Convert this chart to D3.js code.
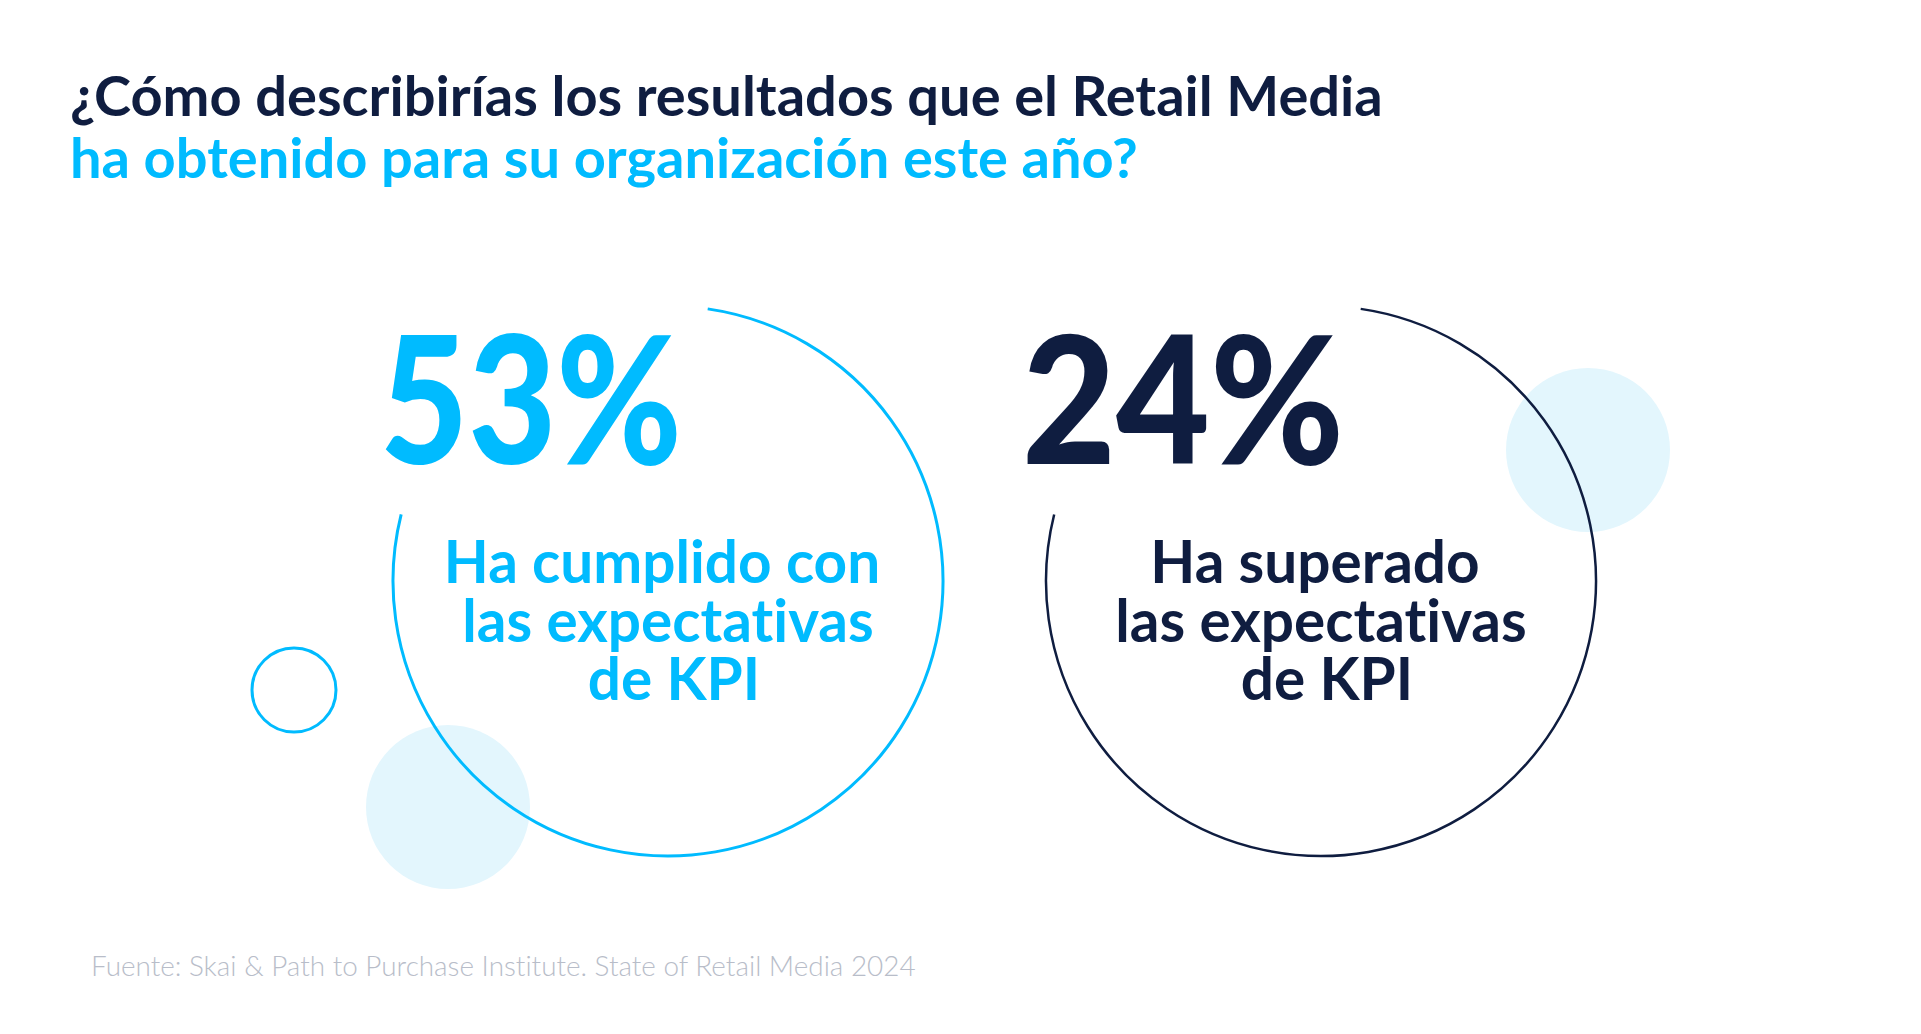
<!DOCTYPE html>
<html><head><meta charset="utf-8">
<script src="https://cdn.jsdelivr.net/npm/d3@7"></script>
<style>
html,body{margin:0;padding:0;background:#fff;}
svg{display:block;font-family:Lato,"Noto Sans",sans-serif;font-variant-ligatures:none;}
</style></head>
<body>
<script>
const titleLines = ["¿Cómo describirías los resultados que el Retail Media", "ha obtenido para su organización este año?"];
const categories = ["cumplido", "superado"];
const values = [53, 24];
const descriptions = [
  ["Ha cumplido con", "las expectativas", "de KPI"],
  ["Ha superado", "las expectativas", "de KPI"]
];
const colors = ["#00bbff", "#0f1d40"];
const source = "Fuente: Skai & Path to Purchase Institute. State of Retail Media 2024";

const W = 1921, H = 1034;
const CYAN = "#00bbff", NAVY = "#0f1d40", PALE = "#e3f6fd";
// layout of the big numbers (start offset from circle centre, rendered width)
const numLayout = [{dx: -288, w: 302}, {dx: -299, w: 322}];

const svg = d3.select("body").append("svg").attr("width", W).attr("height", H);

// title
const title = svg.append("text").attr("x", 70).attr("font-weight", 700).attr("font-size", 56);
title.append("tspan").attr("x", 70).attr("y", 116).attr("fill", NAVY).text(titleLines[0]);
title.append("tspan").attr("x", 70).attr("y", 178).attr("fill", CYAN).text(titleLines[1]);

// layout scale for the two circles
const x = d3.scalePoint().domain(categories).range([668, 1321]);
const cy = 581, R = 275;

// decorative pale circles (behind)
svg.append("circle").attr("cx", 448).attr("cy", 807).attr("r", 82).attr("fill", PALE);
svg.append("circle").attr("cx", 1588).attr("cy", 450).attr("r", 82).attr("fill", PALE);
// small outline circle
svg.append("circle").attr("cx", 294).attr("cy", 690).attr("r", 42).attr("fill", "none")
  .attr("stroke", CYAN).attr("stroke-width", 3);

const arc = d3.arc().innerRadius(R).outerRadius(R)
  .startAngle(8.3 * Math.PI / 180).endAngle(284 * Math.PI / 180);

const g = svg.selectAll("g.item").data(categories).join("g")
  .attr("class", "item")
  .attr("transform", d => `translate(${x(d)},${cy})`);

g.append("path").attr("d", arc()).attr("fill", "none")
  .attr("stroke", (d, i) => colors[i]).attr("stroke-width", (d, i) => i === 0 ? 3 : 2.5)
  .attr("stroke-linecap", "round");

g.append("text")
  .attr("x", (d, i) => numLayout[i].dx)
  .attr("y", -117)
  .attr("font-weight", 900).attr("font-size", 177)
  .attr("textLength", (d, i) => numLayout[i].w)
  .attr("lengthAdjust", "spacingAndGlyphs")
  .attr("fill", (d, i) => colors[i])
  .text((d, i) => values[i] + "%");

g.each(function(d, i) {
  const t = d3.select(this).append("text").attr("text-anchor", "middle")
    .attr("font-weight", 700).attr("font-size", 58.5).attr("fill", colors[i]);
  descriptions[i].forEach((line, j) => {
    t.append("tspan").attr("x", -6 + j * 6).attr("y", 2 + j * 58.5).text(line);
  });
});

svg.append("text").attr("x", 91).attr("y", 976).attr("font-weight", 300)
  .attr("font-size", 27.9).attr("fill", "#b8bdc9").text(source);
</script>
</body></html>
